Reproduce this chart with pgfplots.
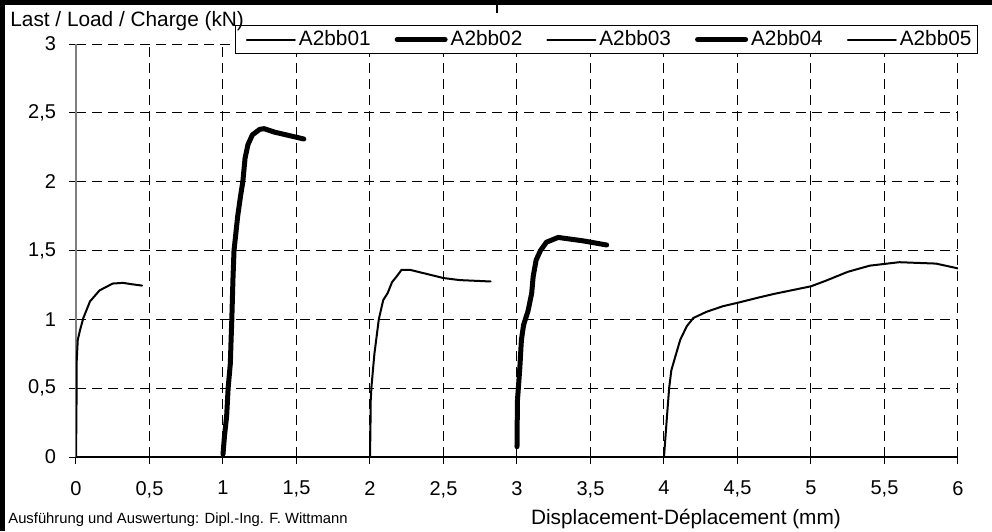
\documentclass[border=0pt]{standalone}
\usepackage{pgfplots}
\pgfplotsset{compat=1.18}
\usepackage{fontspec}
\setmainfont{Liberation Sans}

\begin{document}
\begin{tikzpicture}[x=1pt,y=1pt]
\useasboundingbox (0,0) rectangle (496,265.5);
% frame of the form sheet
\fill[black] (0,0) rectangle (2.5,265.5);
\fill[black] (0,263) rectangle (496,265.5);
\fill[black] (248,259) rectangle (249,263);

\begin{axis}[
  at={(38pt,37pt)}, anchor=south west,
  scale only axis, width=441pt, height=206.5pt,
  xmin=0, xmax=6, ymin=0, ymax=3,
  axis x line=bottom, axis y line=left,
  x axis line style={-, black, line width=0.6pt},
  y axis line style={-, gray, line width=0.8pt},
  tick align=outside, major tick length=3.5pt,
  tick style={black, line width=0.5pt},
  xtick={0.5,1,1.5,2,2.5,3,3.5,4,4.5,5,5.5,6},
  ytick={0.5,1,1.5,2,2.5,3},
  extra x ticks={0}, extra x tick style={grid=none},
  extra y ticks={0}, extra y tick style={grid=none},
  xmajorgrids, ymajorgrids,
  major grid style={black, line width=0.5pt, dash pattern=on 5pt off 3pt},
  ticklabel style={font=\fontsize{10}{12}\selectfont},
  xticklabel style={yshift=-5pt},
  yticklabel style={xshift=-3pt},
  /pgf/number format/.cd, use comma, fixed, assume math mode=true,
  /pgfplots/.cd,
  legend columns=5,
  legend image code/.code={\path (0pt,0pt); \draw[#1] (3.5pt,0pt) -- (27.5pt,0pt);},
  legend style={at={(1.0227,1.046)}, anchor=north east, draw=black,
    line width=0.5pt, font=\fontsize{10.4}{12}\selectfont,
    inner xsep=1.5pt, inner ysep=1.5pt,
    nodes={inner xsep=1.5pt, inner ysep=1pt},
    /tikz/every even column/.append style={column sep=7pt}},
  every axis plot/.append style={black, line join=round, line cap=round},
]
% A2bb01
\addplot[line width=1pt] coordinates {
(0,0) (0.003,0.3) (0.005,0.7) (0.012,0.85) (0.027,0.92) (0.05,1.01)
(0.095,1.13) (0.16,1.21) (0.25,1.26) (0.32,1.265) (0.38,1.255) (0.45,1.245)
};
% A2bb02
\addplot[line width=2.5pt] coordinates {
(1.00,0.02) (1.01,0.15) (1.025,0.3) (1.035,0.5) (1.05,0.68) (1.055,0.85)
(1.06,1.0) (1.068,1.3) (1.075,1.5) (1.09,1.65) (1.10,1.75) (1.12,1.9)
(1.135,2.0) (1.15,2.17) (1.17,2.27) (1.20,2.34) (1.25,2.38) (1.28,2.385)
(1.35,2.36) (1.45,2.335) (1.55,2.31)
};
% A2bb03
\addplot[line width=1pt] coordinates {
(2.0,0) (2.003,0.2) (2.005,0.41) (2.01,0.51) (2.03,0.75) (2.06,1.0)
(2.09,1.14) (2.12,1.19) (2.15,1.27) (2.18,1.31) (2.215,1.36) (2.27,1.36)
(2.385,1.33) (2.50,1.30) (2.61,1.285) (2.82,1.275)
};
% A2bb04
\addplot[line width=2.5pt] coordinates {
(3.0,0.075) (3.003,0.41) (3.01,0.51) (3.02,0.66) (3.03,0.85) (3.045,0.96)
(3.075,1.06) (3.10,1.19) (3.11,1.31) (3.13,1.43) (3.16,1.50) (3.20,1.56)
(3.28,1.595) (3.45,1.57) (3.61,1.54)
};
% A2bb05
\addplot[line width=1pt] coordinates {
(4.0,0) (4.02,0.29) (4.035,0.50) (4.05,0.63) (4.11,0.85) (4.155,0.95)
(4.20,1.01) (4.29,1.055) (4.40,1.095) (4.5,1.12) (4.65,1.16) (4.75,1.185)
(5.0,1.24) (5.1,1.28) (5.25,1.345) (5.4,1.39) (5.6,1.415) (5.85,1.405) (6.0,1.37)
};
\legend{A2bb01, A2bb02, A2bb03, A2bb04, A2bb05}
\end{axis}

\node[anchor=west, inner sep=0, font=\fontsize{10.4}{12}\selectfont] at (5,255) {Last / Load / Charge (kN)};
\node[inner sep=0, font=\fontsize{10.4}{12}\selectfont] at (343,6) {Displacement-Déplacement (mm)};
\node[anchor=west, inner sep=0, font=\fontsize{7.4}{9}\selectfont] at (4,5.5) {Ausführung und Auswertung: Dipl.-Ing. F. Wittmann};
\end{tikzpicture}
\end{document}
